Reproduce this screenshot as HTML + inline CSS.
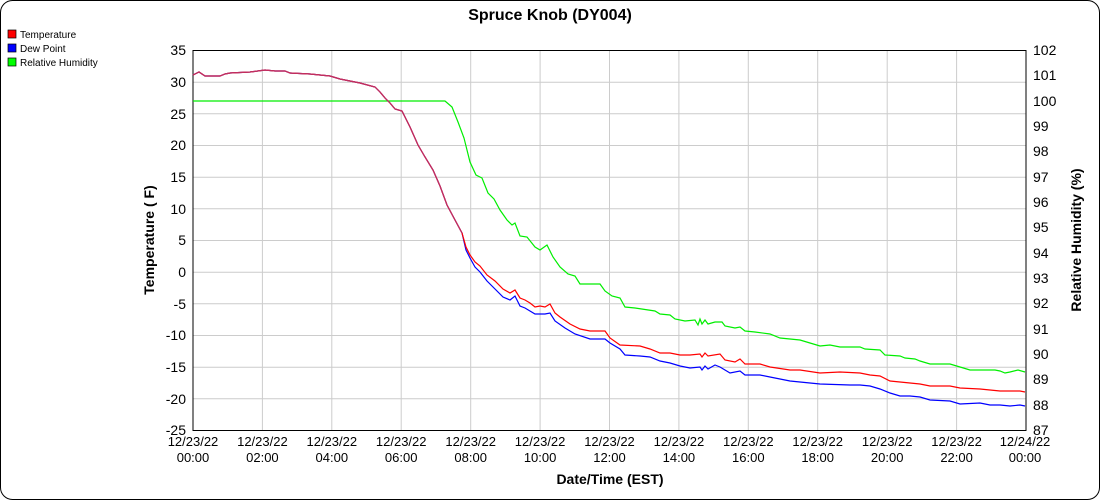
<!DOCTYPE html>
<html><head><meta charset="utf-8"><style>
html,body{margin:0;padding:0;background:#fff;}
svg{display:block;font-family:"Liberation Sans",Arial,sans-serif;}
</style></head><body>
<svg width="1100" height="500" viewBox="0 0 1100 500">
<rect x="0.5" y="0.5" width="1099" height="499" rx="12" fill="#fff" stroke="#000"/>
<text x="550" y="20" text-anchor="middle" font-size="16" font-weight="bold">Spruce Knob (DY004)</text>
<rect x="8" y="30" width="8" height="8" fill="#f00" stroke="#000" stroke-width="0.7"/><text x="20" y="38" font-size="10">Temperature</text>
<rect x="8" y="44" width="8" height="8" fill="#00f" stroke="#000" stroke-width="0.7"/><text x="20" y="52" font-size="10">Dew Point</text>
<rect x="8" y="58" width="8" height="8" fill="#0f0" stroke="#000" stroke-width="0.7"/><text x="20" y="66" font-size="10">Relative Humidity</text>
<g stroke="#ccc" stroke-width="1">
<line x1="193" x2="1026" y1="82.2" y2="82.2"/><line x1="193" x2="1026" y1="113.8" y2="113.8"/><line x1="193" x2="1026" y1="145.5" y2="145.5"/><line x1="193" x2="1026" y1="177.2" y2="177.2"/><line x1="193" x2="1026" y1="208.8" y2="208.8"/><line x1="193" x2="1026" y1="240.5" y2="240.5"/><line x1="193" x2="1026" y1="272.2" y2="272.2"/><line x1="193" x2="1026" y1="303.8" y2="303.8"/><line x1="193" x2="1026" y1="335.5" y2="335.5"/><line x1="193" x2="1026" y1="367.2" y2="367.2"/><line x1="193" x2="1026" y1="398.8" y2="398.8"/>
<line x1="262.4" x2="262.4" y1="50" y2="430"/><line x1="331.8" x2="331.8" y1="50" y2="430"/><line x1="401.2" x2="401.2" y1="50" y2="430"/><line x1="470.7" x2="470.7" y1="50" y2="430"/><line x1="540.1" x2="540.1" y1="50" y2="430"/><line x1="609.5" x2="609.5" y1="50" y2="430"/><line x1="678.9" x2="678.9" y1="50" y2="430"/><line x1="748.3" x2="748.3" y1="50" y2="430"/><line x1="817.7" x2="817.7" y1="50" y2="430"/><line x1="887.2" x2="887.2" y1="50" y2="430"/><line x1="956.6" x2="956.6" y1="50" y2="430"/>
</g>
<rect x="193" y="50.5" width="833" height="380" fill="none" stroke="#000"/>
<polyline fill="none" stroke="#0e0" stroke-width="1.2" points="193,101 445,101 452,107 458,122 464,138 470,162 476,175 482,178 488,193 494,199 500,210 507,220 512,225 515,223 520,236 527,237 535,247 540,250 547,245 553,257 560,267 568,274 575,276 580,284 600,284 605,291 612,296 620,298 625,307 635,308 655,311 660,314 670,315 675,319 685,321 695,320 698,325 700,319 702,324 705,320 708,324 715,322 722,322 725,326 735,328 740,327 745,331 755,332 770,334 780,338 800,340 810,343 820,346 830,345 840,347 860,347 865,349 880,350 885,355 900,356 905,358 915,359 920,361 930,364 950,364 960,367 970,370 995,370 1000,371 1005,373 1010,372 1018,370 1025,372"/>
<polyline fill="none" stroke="#00f" stroke-width="1.2" points="193,75 199,72 205,76 220,76 225,74 230,73 250,72 265,70 275,71 285,71 290,73 310,74 330,76 340,79 360,83 375,87 380,92 385,98 390,103 395,109 402,111 410,127 418,145 425,157 433,170 440,186 447,205 455,220 462,233 466,250 470,258 475,267 480,272 487,281 495,289 503,297 510,300 515,296 520,306 525,308 535,314 545,314 550,313 555,321 565,328 575,334 590,339 605,339 610,343 620,349 625,355 640,356 650,357 660,361 670,363 680,366 690,368 700,367 702,370 705,366 708,369 715,365 720,367 730,373 740,371 745,375 760,375 770,377 790,381 800,382 820,384 850,385 860,385 870,386 880,389 890,393 900,396 910,396 920,397 930,400 950,401 960,404 980,403 990,405 1000,405 1010,406 1020,405 1025,406"/>
<polyline fill="none" stroke="#f00" stroke-width="1.2" points="193,75 199,72 205,76 220,76 225,74 230,73 250,72 265,70 275,71 285,71 290,73 310,74 330,76 340,79 360,83 375,87 380,92 385,98 390,103 395,109 402,111 410,127 418,145 425,157 433,170 440,186 447,205 455,220 462,233 466,247 470,255 475,262 480,266 487,275 495,281 503,289 510,293 515,290 520,298 525,300 530,303 535,307 540,306 545,307 550,304 555,313 560,317 570,324 580,329 590,331 605,331 610,338 620,345 640,346 650,349 660,353 670,353 680,355 690,355 700,354 702,357 705,353 708,356 720,354 725,360 735,362 740,359 745,364 760,364 770,367 790,370 800,370 820,373 840,372 860,373 870,375 880,376 890,381 900,382 910,383 920,384 930,386 950,386 960,388 980,389 1000,391 1020,391 1025,392"/>
<polyline fill="none" stroke="#c03060" stroke-width="1.2" points="193,75 199,72 205,76 220,76 225,74 230,73 250,72 265,70 275,71 285,71 290,73 310,74 330,76 340,79 360,83 375,87 380,92 385,98 390,103 395,109 402,111 410,127 418,145 425,157 433,170 440,186 447,205 455,220 462,233"/>
<g font-size="14" text-anchor="end">
<text x="186" y="55">35</text><text x="186" y="87">30</text><text x="186" y="119">25</text><text x="186" y="150">20</text><text x="186" y="182">15</text><text x="186" y="214">10</text><text x="186" y="245">5</text><text x="186" y="277">0</text><text x="186" y="309">-5</text><text x="186" y="340">-10</text><text x="186" y="372">-15</text><text x="186" y="404">-20</text><text x="186" y="435">-25</text>
</g>
<g font-size="14" text-anchor="start">
<text x="1033" y="55">102</text><text x="1033" y="80">101</text><text x="1033" y="106">100</text><text x="1033" y="131">99</text><text x="1033" y="156">98</text><text x="1033" y="182">97</text><text x="1033" y="207">96</text><text x="1033" y="232">95</text><text x="1033" y="258">94</text><text x="1033" y="283">93</text><text x="1033" y="308">92</text><text x="1033" y="334">91</text><text x="1033" y="359">90</text><text x="1033" y="384">89</text><text x="1033" y="410">88</text><text x="1033" y="435">87</text>
</g>
<g font-size="13" text-anchor="middle">
<text x="193" y="446">12/23/22</text><text x="193" y="462">00:00</text>
<text x="262.4" y="446">12/23/22</text><text x="262.4" y="462">02:00</text>
<text x="331.8" y="446">12/23/22</text><text x="331.8" y="462">04:00</text>
<text x="401.2" y="446">12/23/22</text><text x="401.2" y="462">06:00</text>
<text x="470.7" y="446">12/23/22</text><text x="470.7" y="462">08:00</text>
<text x="540.1" y="446">12/23/22</text><text x="540.1" y="462">10:00</text>
<text x="609.5" y="446">12/23/22</text><text x="609.5" y="462">12:00</text>
<text x="678.9" y="446">12/23/22</text><text x="678.9" y="462">14:00</text>
<text x="748.3" y="446">12/23/22</text><text x="748.3" y="462">16:00</text>
<text x="817.7" y="446">12/23/22</text><text x="817.7" y="462">18:00</text>
<text x="887.2" y="446">12/23/22</text><text x="887.2" y="462">20:00</text>
<text x="956.6" y="446">12/23/22</text><text x="956.6" y="462">22:00</text>
<text x="1025" y="446">12/24/22</text><text x="1025" y="462">00:00</text>
</g>
<text x="610" y="484" text-anchor="middle" font-size="14" font-weight="bold">Date/Time (EST)</text>
<text transform="translate(154,240) rotate(-90)" text-anchor="middle" font-size="14" font-weight="bold">Temperature ( F)</text>
<text transform="translate(1081,240) rotate(-90)" text-anchor="middle" font-size="14" font-weight="bold">Relative Humidity (%)</text>
</svg>
</body></html>
